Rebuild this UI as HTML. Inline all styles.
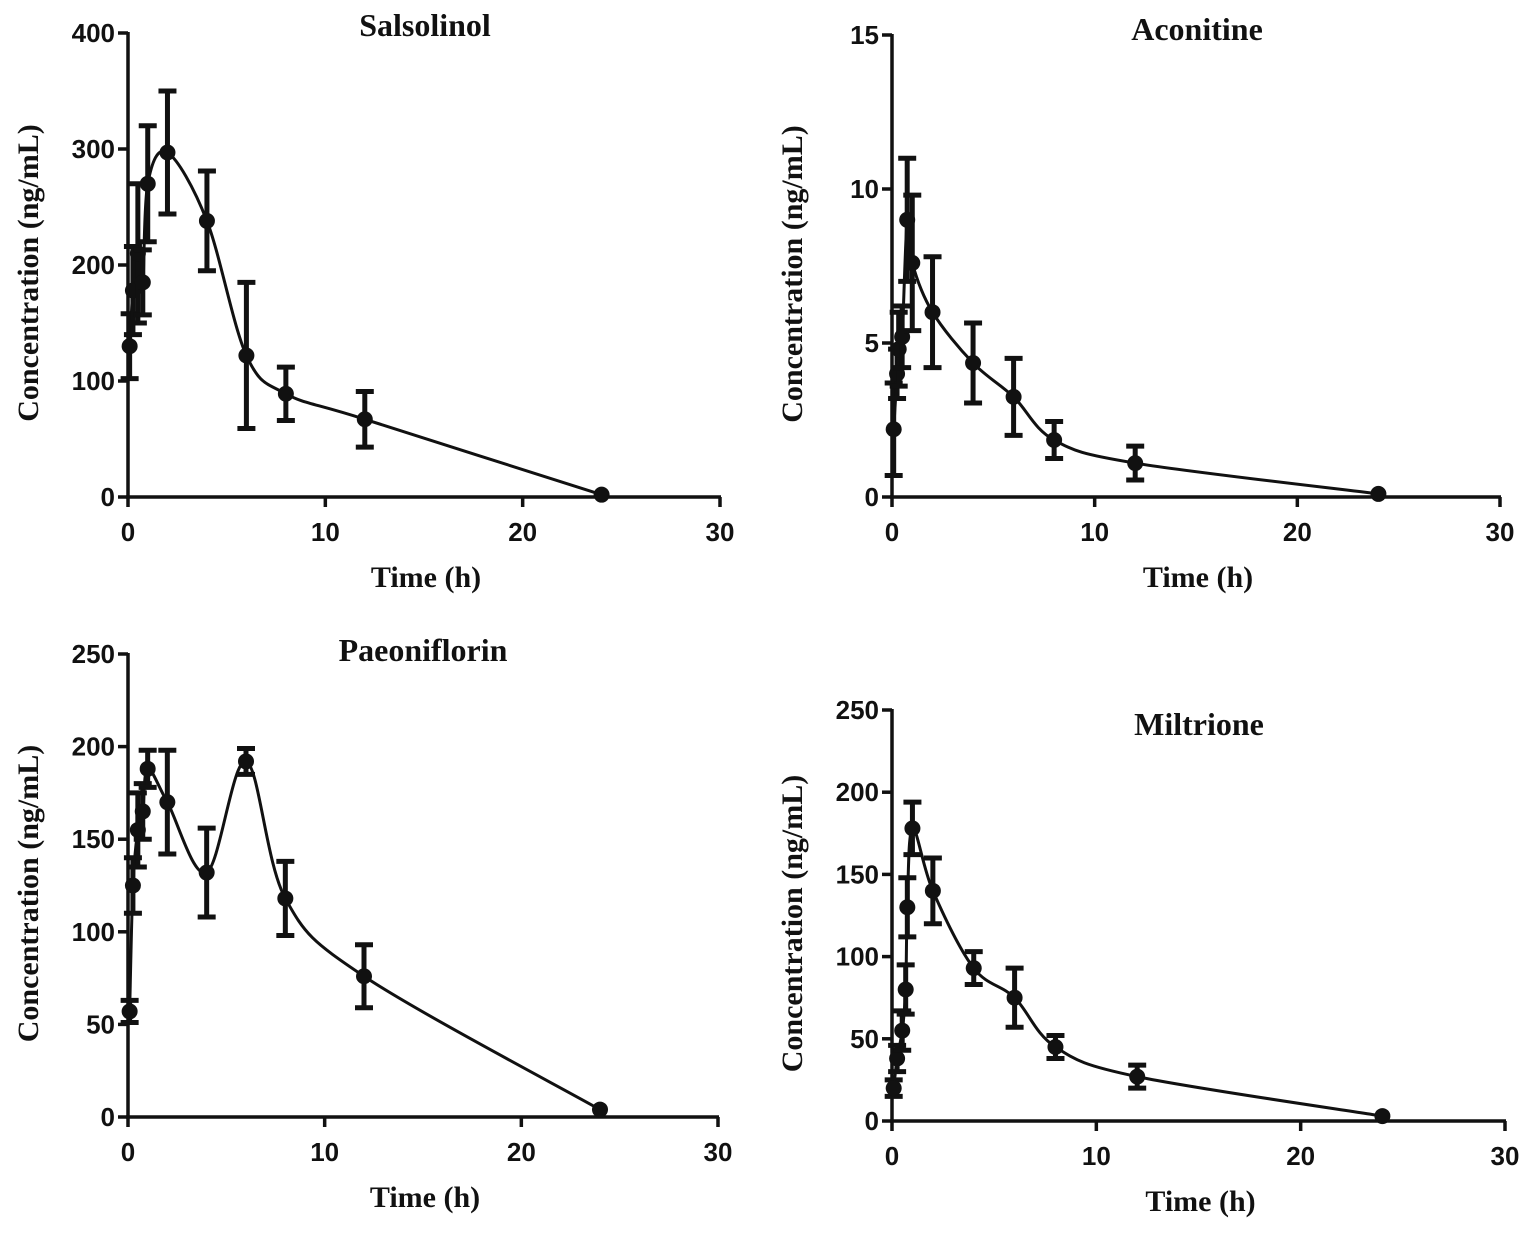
<!DOCTYPE html>
<html><head><meta charset="utf-8">
<style>
html,body{margin:0;padding:0;background:#fff;}
svg{display:block;}
.tick{font-family:"Liberation Sans",sans-serif;font-weight:bold;font-size:26px;fill:#111;}
.lab{font-family:"Liberation Serif",serif;font-weight:bold;font-size:30px;fill:#111;}
.ttl{font-family:"Liberation Serif",serif;font-weight:bold;font-size:32px;fill:#111;}
</style></head>
<body>
<svg id="chart" width="1535" height="1241" viewBox="0 0 1535 1241" xmlns="http://www.w3.org/2000/svg"></svg>
<script>
const salsoTimes=[0.083,0.25,0.5,0.75,1,2,4,6,8,12,24];
const salsoMeans=[130,178,210,185,270,297,238,122,89,67,2];
const salsoSD=[28,38,60,28,50,53,43,63,23,24,0];
const aconTimes=[0.083,0.25,0.33,0.5,0.75,1,2,4,6,8,12,24];
const aconMeans=[2.2,4.0,4.8,5.2,9.0,7.6,6.0,4.35,3.25,1.85,1.1,0.1];
const aconSD=[1.5,0.8,1.2,1.0,2.0,2.2,1.8,1.3,1.25,0.6,0.55,0];
const paeoTimes=[0.083,0.25,0.5,0.75,1,2,4,6,8,12,24];
const paeoMeans=[57,125,155,165,188,170,132,192,118,76,4];
const paeoSD=[6,15,20,15,10,28,24,7,20,17,0];
const milTimes=[0.083,0.25,0.5,0.67,0.75,1,2,4,6,8,12,24];
const milMeans=[20,38,55,80,130,178,140,93,75,45,27,3];
const milSD=[5,8,12,15,18,16,20,10,18,7,7,0];
const xTicks=[0,10,20,30];
const ticksSalso=[0,100,200,300,400];
const ticksAcon=[0,5,10,15];
const ticksPaeo=[0,50,100,150,200,250];
const ticksMil=[0,50,100,150,200,250];

const NS="http://www.w3.org/2000/svg";
const svg=document.getElementById('chart');
function mk(tag,attrs,parent){const e=document.createElementNS(NS,tag);for(const k in attrs)e.setAttribute(k,attrs[k]);(parent||svg).appendChild(e);return e;}

function panel(cfg){
  const g=mk('g',{});
  
  
  const xs=t=>cfg.x0+(t/30)*(cfg.x30-cfg.x0);
  const ys=v=>cfg.y0-(v/cfg.ymax)*(cfg.y0-cfg.yTop);
  const ya=mk('line',{x1:cfg.x0,y1:cfg.y0,x2:cfg.x0,y2:cfg.yTop-1,stroke:'#111','stroke-width':3.5},g);
  
  
  const xa=mk('line',{x1:cfg.x0-2,y1:cfg.y0,x2:cfg.x30+1,y2:cfg.y0,stroke:'#111','stroke-width':3.5},g);
  
  
  cfg.yticks.forEach(v=>{
    mk('line',{x1:cfg.x0-10,y1:ys(v),x2:cfg.x0,y2:ys(v),stroke:'#111','stroke-width':3.5},g);
    const t=mk('text',{x:cfg.x0-13,y:ys(v)+9,'text-anchor':'end',class:'tick'},g);
    t.textContent=v;
    
    
  });
  xTicks.forEach(v=>{
    mk('line',{x1:xs(v),y1:cfg.y0,x2:xs(v),y2:cfg.y0+10,stroke:'#111','stroke-width':3.5},g);
    const t=mk('text',{x:xs(v),y:cfg.y0+44,'text-anchor':'middle',class:'tick'},g);
    t.textContent=v;
    
    
  });
  const xl=mk('text',{x:(cfg.x0+cfg.x30)/2+2,y:cfg.y0+90,'text-anchor':'middle',class:'lab'},g);
  xl.textContent='Time (h)';
  
  
  const ylx=cfg.x0-90, yly=(cfg.y0+cfg.yTop)/2+8;
  const yl=mk('text',{x:ylx,y:yly,'text-anchor':'middle',class:'lab',transform:`rotate(-90 ${ylx} ${yly})`},g);
  yl.textContent='Concentration (ng/mL)';
  
  
  const tt=mk('text',{x:cfg.tx,y:cfg.ty,'text-anchor':'middle',class:'ttl'},g);
  tt.textContent=cfg.title;
  
  
  const P=cfg.t.map((t,i)=>[xs(t),ys(cfg.m[i])]);
  let d='M'+P[0][0]+','+P[0][1];
  for(let i=0;i<P.length-1;i++){
    const p0=P[i-1]||P[i],p1=P[i],p2=P[i+1],p3=P[i+2]||P[i+1];
    const c1=[p1[0]+(p2[0]-p0[0])/6,p1[1]+(p2[1]-p0[1])/6];
    const c2=[p2[0]-(p3[0]-p1[0])/6,p2[1]-(p3[1]-p1[1])/6];
    d+=` C${c1[0]},${c1[1]} ${c2[0]},${c2[1]} ${p2[0]},${p2[1]}`;
  }
  const cv=mk('path',{d:d,fill:'none',stroke:'#111','stroke-width':3},g);
  
  
  cfg.t.forEach((t,i)=>{
    const x=xs(t),y=ys(cfg.m[i]),yh=ys(cfg.m[i]+cfg.sd[i]),yl2=ys(Math.max(0,cfg.m[i]-cfg.sd[i]));
    if(cfg.sd[i]>0){
      const eb=mk('path',{d:`M${x},${yh}V${yl2}M${x-9},${yh}H${x+9}M${x-9},${yl2}H${x+9}`,stroke:'#111','stroke-width':5,fill:'none'},g);
      
      
    }
    const c=mk('circle',{cx:x,cy:y,r:8,fill:'#111'},g);
    
    
  });
}
panel({name:'salsolinol',title:'Salsolinol',tx:425,ty:36,x0:128,x30:720,y0:497,yTop:33,ymax:400,yticks:ticksSalso,t:salsoTimes,m:salsoMeans,sd:salsoSD});
panel({name:'aconitine',title:'Aconitine',tx:1197,ty:40,x0:892,x30:1500,y0:497,yTop:35,ymax:15,yticks:ticksAcon,t:aconTimes,m:aconMeans,sd:aconSD});
panel({name:'paeoniflorin',title:'Paeoniflorin',tx:423,ty:661,x0:128,x30:718,y0:1117,yTop:654,ymax:250,yticks:ticksPaeo,t:paeoTimes,m:paeoMeans,sd:paeoSD});
panel({name:'miltrione',title:'Miltrione',tx:1199,ty:735,x0:892,x30:1505,y0:1121,yTop:710,ymax:250,yticks:ticksMil,t:milTimes,m:milMeans,sd:milSD});
</script>
</body></html>
